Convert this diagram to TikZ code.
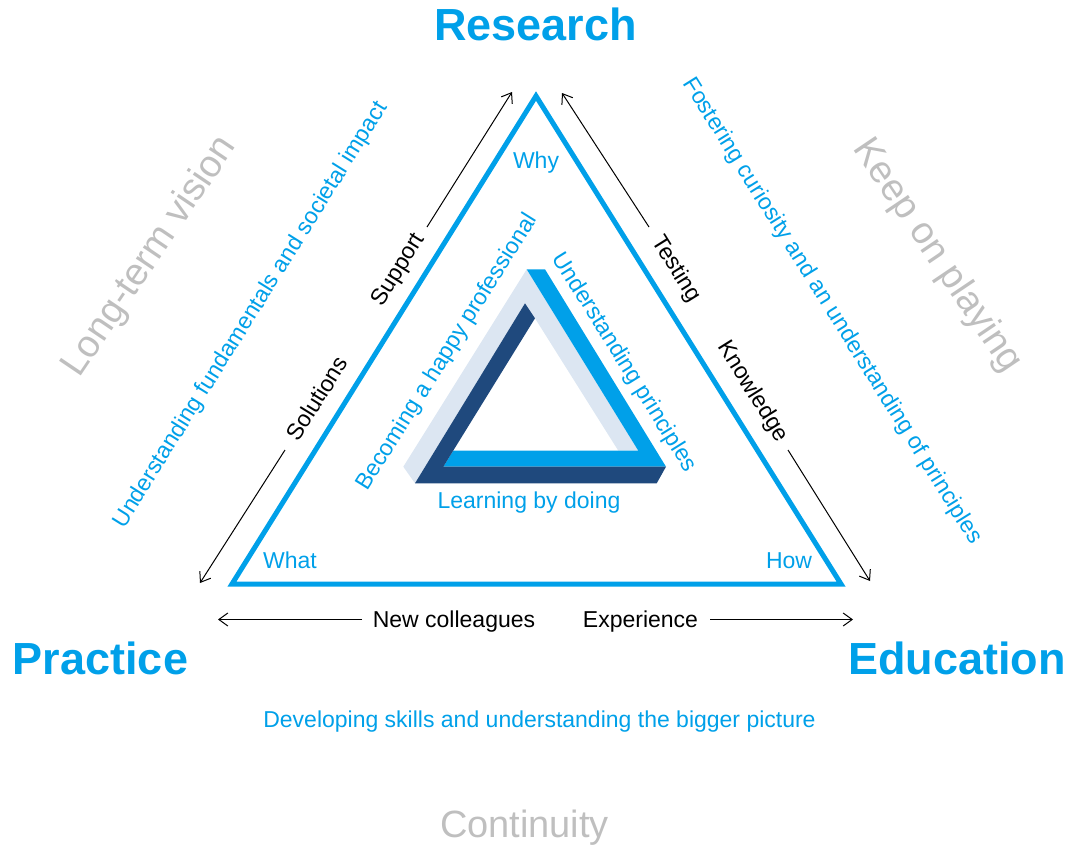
\documentclass[tikz,border=0pt]{standalone}
\usepackage{fontspec}
\setmainfont{Liberation Sans}
\usetikzlibrary{arrows.meta}
\definecolor{mainblue}{RGB}{0,160,233}
\definecolor{navy}{RGB}{31,73,125}
\definecolor{pale}{RGB}{220,230,242}
\definecolor{softgray}{RGB}{191,191,191}
\begin{document}
\begin{tikzpicture}[x=1pt,y=-1pt,
  big/.style={font=\fontsize{45}{50}\selectfont\bfseries, text=mainblue, inner sep=0pt, anchor=base},
  small/.style={font=\fontsize{23}{27}\selectfont, inner sep=0pt},
  bluetxt/.style={small, text=mainblue},
  blacktxt/.style={small, text=black},
  faint/.style={font=\fontsize{38}{42}\selectfont, text=softgray, inner sep=0pt},
  arr/.style={-{Straight Barb[length=9pt,width=13pt]}, line width=1pt, black}]
\useasboundingbox (0,0) rectangle (1071,847);
% main triangle
\coordinate (top) at (536,96);
\coordinate (bl) at (232,584);
\coordinate (br) at (841,584);
\draw[mainblue, line width=5pt, line join=miter] (top) -- (br) -- (bl) -- cycle;
% impossible triangle
\fill[pale] (403.3,466.7) -- (526.7,269.3) -- (638.3,450.7) -- (618.3,450.7) -- (535,318.3) -- (525,303.3) -- (415,483.3) -- cycle;
\fill[mainblue] (526.7,269.3) -- (545,269.3) -- (666,466.7) -- (443.3,466.7) -- (453.2,450.7) -- (638.3,450.7) -- cycle;
\fill[navy] (415,483.3) -- (525,303.3) -- (535,318.3) -- (443.3,466.7) -- (666,466.7) -- (656.7,483.3) -- cycle;
% corner titles
\node[big] (research) at (535.5,40) {Research};
\node[big] (practice) at (100.5,674) {Practice};
\node[big] (education) at (957,674) {Education};
\node[font=\fontsize{38}{42}\selectfont, text=softgray, inner sep=0pt, anchor=base] (continuity) at (524.5,837) {Continuity};
% faint side words
\node[faint, rotate=56] (longterm) at (150,257) {Long-term vision};
\node[faint, rotate=-56] (keep) at (937,256) {Keep on playing};
% blue descriptions
\node[bluetxt, rotate=58] (fund) at (251,315) {Understanding fundamentals and societal impact};
\node[bluetxt, rotate=-58] (foster) at (832,311) {Fostering curiosity and an understanding of principles};
\node[bluetxt, anchor=base] (develop) at (539.5,727) {Developing skills and understanding the bigger picture};
\node[bluetxt, anchor=base] (why) at (536,168.3) {Why};
\node[bluetxt, anchor=base] (what) at (290,568.3) {What};
\node[bluetxt, anchor=base] (how) at (789,568.3) {How};
\node[bluetxt, anchor=base] (learning) at (529,508) {Learning by doing};
\node[bluetxt, rotate=58] (becoming) at (447.5,352.5) {Becoming a happy professional};
\node[bluetxt, rotate=-58] (underprin) at (624,362.5) {Understanding principles};
% black labels
\node[blacktxt, rotate=58] (support) at (399,270) {Support};
\node[blacktxt, rotate=58] (solutions) at (316.7,398.3) {Solutions};
\node[blacktxt, rotate=-58] (testing) at (675.8,269) {Testing};
\node[blacktxt, rotate=-58] (knowledge) at (752.5,391.7) {Knowledge};
\node[blacktxt, anchor=base] (newcol) at (454,627) {New colleagues};
\node[blacktxt, anchor=base] (experience) at (640.5,627) {Experience};
% arrows
\coordinate (supS) at (427,227);
\coordinate (supE) at (512,92);
\coordinate (solS) at (285,450);
\coordinate (solE) at (200,583);
\coordinate (tesS) at (649,227);
\coordinate (tesE) at (562,93);
\coordinate (knoS) at (788,450);
\coordinate (knoE) at (870,581);
\coordinate (ncS) at (362,619.5);
\coordinate (ncE) at (218,619.5);
\coordinate (exS) at (710,619.5);
\coordinate (exE) at (853,619.5);
\draw[arr] (supS) -- (supE);
\draw[arr] (solS) -- (solE);
\draw[arr] (tesS) -- (tesE);
\draw[arr] (knoS) -- (knoE);
\draw[arr] (ncS) -- (ncE);
\draw[arr] (exS) -- (exE);
\end{tikzpicture}
\end{document}
